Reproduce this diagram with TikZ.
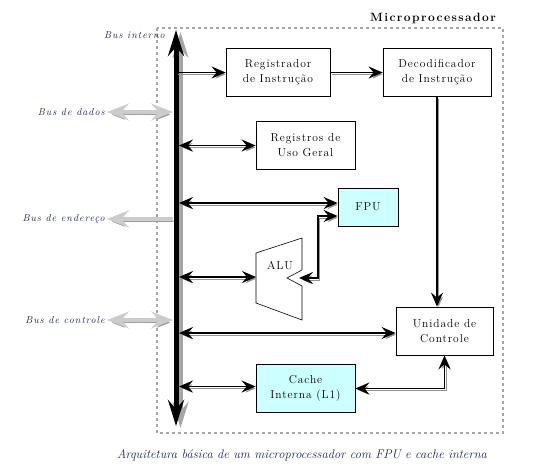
\documentclass[tikz,border=0pt]{standalone}
\usepackage{fontspec}
\setmainfont{Latin Modern Roman}
\usetikzlibrary{arrows.meta,positioning,calc}
\definecolor{fpucyan}{RGB}{204,255,255}
\definecolor{labelblue}{RGB}{30,40,80}
\newcommand{\boxfont}{\fontsize{11.5}{15}\selectfont\addfontfeatures{LetterSpace=8}}
\newcommand{\busfont}{\fontsize{10}{12}\selectfont\itshape\addfontfeatures{LetterSpace=10}}
\tikzset{
  >={Stealth[length=14pt,width=12pt,inset=5pt]},
  unitbox/.style={
    draw=black,
    thick,
    fill=white,
    minimum width=99pt,
    minimum height=48pt,
    align=center,
    inner sep=2pt,
    font=\boxfont
  },
  cachebox/.style={unitbox, fill=fpucyan},
  buslabel/.style={anchor=east, inner sep=1pt, font=\busfont, text=labelblue},
  link/.style={line width=1.8pt, black,
    preaction={draw=gray!85, transform canvas={shift={(1.6pt,-1.8pt)}}}},
  extlink/.style={line width=3.2pt, gray!40,
    {Stealth[length=22pt,width=17pt,inset=8pt]}-{Stealth[length=22pt,width=17pt,inset=8pt]},
    preaction={draw=gray!75, transform canvas={shift={(1pt,-2.6pt)}}}},
  bus/.style={line width=5pt, black,
    {Stealth[length=26pt,width=16pt,inset=9pt]}-{Stealth[length=26pt,width=16pt,inset=9pt]},
    preaction={draw=gray!70, line width=4pt, transform canvas={shift={(4.5pt,-2pt)}}}},
  cpuframe/.style={draw=gray!70, line width=2.6pt, dash pattern=on 2.6pt off 3.4pt}
}

\begin{document}
\begin{tikzpicture}[x=1pt,y=-1pt]
  \useasboundingbox (0,0) rectangle (537,470);
  \draw[cpuframe] (157,28) rectangle (503,433);
  \node[anchor=south east, inner sep=0pt, font=\fontsize{12}{14}\selectfont\bfseries\addfontfeatures{LetterSpace=12}] (titulo) at (496,24) {Microprocessador};

  % blocos internos
  \node[unitbox, minimum width=104pt] (ri) at (278,72.5) {Registrador\\de Instrução};
  \node[unitbox, minimum width=108pt] (di) at (437,72.5) {Decodificador\\de Instrução};
  \node[unitbox] (rg) at (305.5,145.5) {Registros de\\Uso Geral};
  \node[cachebox, minimum width=60pt, minimum height=38pt] (fpu) at (368,207) {FPU};
  \node[unitbox, minimum width=97pt] (uc) at (444.5,331) {Unidade de\\Controle};
  \node[cachebox] (cache) at (305.5,388.5) {Cache\\Interna (L1)};
  \draw[semithick, fill=white] (256,253) -- (302,238) -- (302,270) -- (287,278) -- (302,286)
    -- (302,320) -- (256,303) -- cycle;
  \node[font=\boxfont] (alu) at (280,266) {ALU};
  \coordinate (aluin) at (256,277);
  \coordinate (aluport) at (299,278);
  \coordinate (fpuin) at ([yshift=4pt]fpu.west);
  \coordinate (fpuport) at ([yshift=-9pt]fpu.west);
  \coordinate (ucin) at ([yshift=-2pt]uc.west);
  \coordinate (cachein) at ([yshift=2pt]cache.west);

  % bus interno
  \coordinate (bt) at (176,30);
  \coordinate (bb) at (176,426);
  \coordinate (bx) at (179,30);
  \coordinate (bl) at (173,30);
  \draw[bus] (bt) -- (bb);
  \node[buslabel] (interno) at (166,35) {Bus interno};

  % barramentos externos
  \node[buslabel] (dados) at (106,112) {Bus de dados};
  \node[buslabel] (endereco) at (106,219) {Bus de endereço};
  \node[buslabel] (controle) at (106,320) {Bus de controle};
  \draw[extlink] ([xshift=1pt]dados.east) -- (bl |- dados.east);
  \draw[extlink, {Stealth[length=22pt,width=17pt,inset=8pt]}-] ([xshift=1pt]endereco.east) -- (bl |- endereco.east);
  \draw[extlink] ([xshift=1pt]controle.east) -- (bl |- controle.east);
  \draw[link, ->] (bt |- ri.west) -- (ri.west);
  \draw[link, ->] (ri.east) -- (di.west);
  \draw[link, <->] (bx |- rg.west) -- (rg.west);
  \draw[link, <->] (bx |- fpuin) -- (fpuin);
  \draw[link, <->] (bx |- aluin) -- (aluin);
  \draw[link, <->] (aluport) -| (318,216) -- (fpuport);
  \draw[link, <->] (bx |- ucin) -- (ucin);
  \draw[link, ->] (di.south) -- (di.south |- uc.north);
  \draw[link, <->] (bx |- cachein) -- (cachein);
  \draw[link, <->] (cache.east) -| (uc.south);

  \node[font=\fontsize{12.5}{15}\selectfont\itshape, text=labelblue] (legenda) at (302,455)
    {Arquitetura básica de um microprocessador com FPU e cache interna};
\end{tikzpicture}
\end{document}
